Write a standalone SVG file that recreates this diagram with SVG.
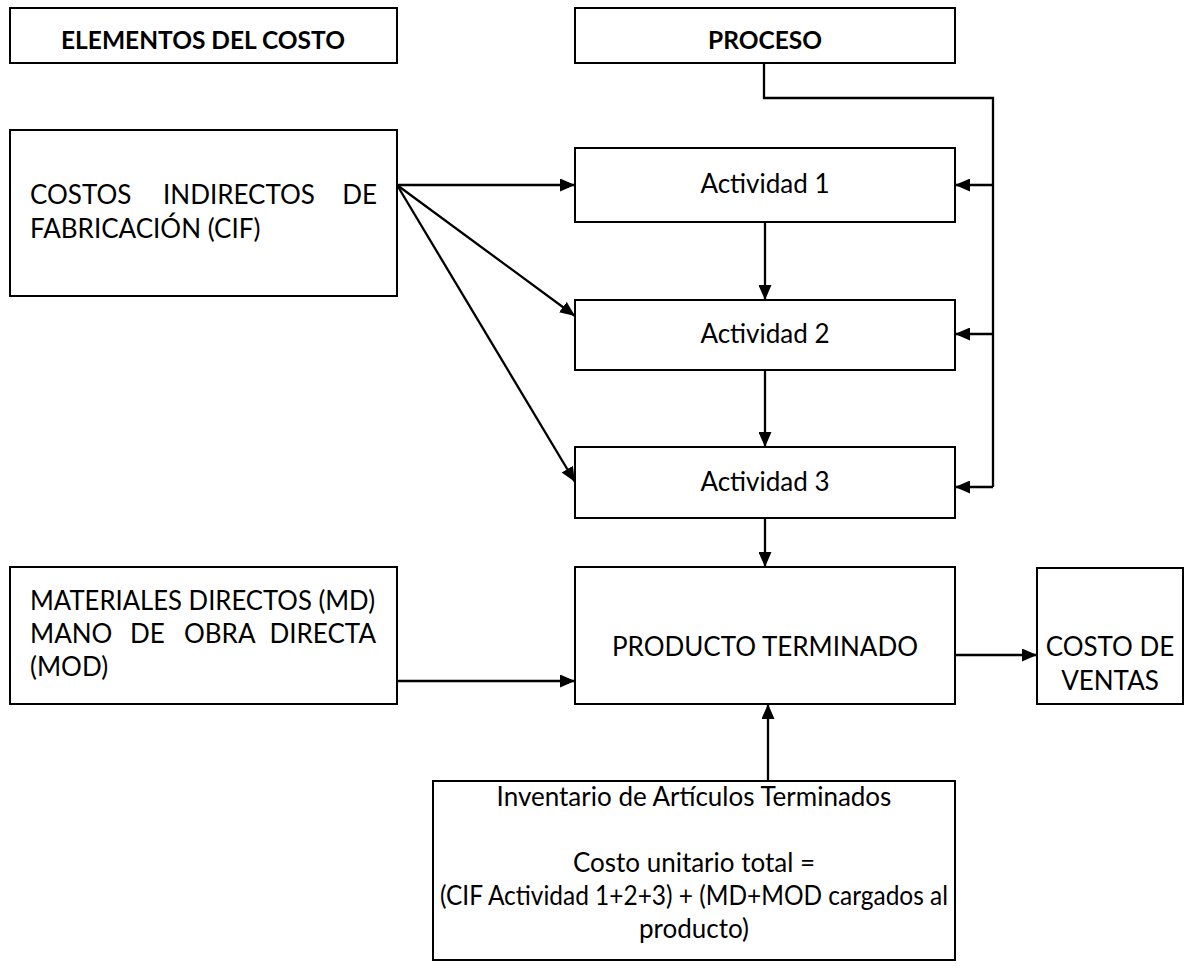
<svg xmlns="http://www.w3.org/2000/svg" width="1194" height="973" viewBox="0 0 1194 973">
  <defs>
    <marker id="arrow" viewBox="0 0 15 13" refX="15" refY="6.5" markerWidth="15" markerHeight="13" markerUnits="userSpaceOnUse" orient="auto">
      <path d="M0,0 L15,6.5 L0,13 Z" fill="#000"/>
    </marker>
    <style>
      .box { fill: #fff; stroke: #000; stroke-width: 2; }
      .t { font-family: Lato, "Liberation Sans", sans-serif; font-size: 26px; fill: #000; }
      .c { text-anchor: middle; }
      .b { font-weight: bold; font-size: 24.5px; }
      .link { fill: none; stroke: #000; stroke-width: 2.3; }
      .arr { marker-end: url(#arrow); }
    </style>
  </defs>
  <rect width="1194" height="973" fill="#fff"/>

  <g id="connectors">
    <!-- PROCESO feeding every activity from the right -->
    <path class="link" d="M764,63 V98 H993 V487"/>
    <line class="link arr" x1="993" y1="185" x2="955" y2="185"/>
    <line class="link arr" x1="993" y1="334" x2="955" y2="334"/>
    <line class="link arr" x1="993" y1="487" x2="955" y2="487"/>
    <!-- CIF distributed to the activities -->
    <line class="link arr" x1="397" y1="185" x2="575" y2="185"/>
    <line class="link arr" x1="397" y1="185" x2="575" y2="316"/>
    <line class="link arr" x1="397" y1="185" x2="575" y2="482"/>
    <!-- activity chain -->
    <line class="link arr" x1="765" y1="222" x2="765" y2="300"/>
    <line class="link arr" x1="765" y1="370" x2="765" y2="447"/>
    <line class="link arr" x1="765" y1="518" x2="765" y2="567"/>
    <!-- MD / MOD to product, product to cost of sales -->
    <line class="link arr" x1="397" y1="681" x2="575" y2="681"/>
    <line class="link arr" x1="955" y1="655" x2="1037" y2="655"/>
    <!-- inventory up to product -->
    <line class="link arr" x1="768" y1="781" x2="768" y2="704"/>
  </g>

  <g id="hdr-elementos">
    <rect class="box" x="10" y="8" width="387" height="55"/>
    <text class="t c b" x="203" y="49">ELEMENTOS DEL COSTO</text>
  </g>

  <g id="hdr-proceso">
    <rect class="box" x="575" y="8" width="380" height="55"/>
    <text class="t c b" x="765" y="49">PROCESO</text>
  </g>

  <g id="cif">
    <rect class="box" x="10" y="130" width="387" height="166"/>
    <text class="t" y="204"><tspan x="30">COSTOS</tspan><tspan x="163">INDIRECTOS</tspan><tspan x="377" text-anchor="end">DE</tspan></text>
    <text class="t" x="30" y="238">FABRICACIÓN (CIF)</text>
  </g>

  <g id="act1">
    <rect class="box" x="575" y="148" width="380" height="74"/>
    <text class="t c" x="765" y="193">Actividad 1</text>
  </g>

  <g id="act2">
    <rect class="box" x="575" y="300" width="380" height="70"/>
    <text class="t c" x="765" y="343">Actividad 2</text>
  </g>

  <g id="act3">
    <rect class="box" x="575" y="447" width="380" height="71"/>
    <text class="t c" x="765" y="491">Actividad 3</text>
  </g>

  <g id="md-mod">
    <rect class="box" x="10" y="567" width="387" height="137"/>
    <text class="t" x="30" y="610" textLength="345" lengthAdjust="spacingAndGlyphs">MATERIALES DIRECTOS (MD)</text>
    <text class="t" y="643"><tspan x="30">MANO</tspan><tspan x="130">DE</tspan><tspan x="184">OBRA</tspan><tspan x="376" text-anchor="end">DIRECTA</tspan></text>
    <text class="t" x="30" y="676">(MOD)</text>
  </g>

  <g id="producto">
    <rect class="box" x="575" y="567" width="380" height="137"/>
    <text class="t c" x="765" y="656">PRODUCTO TERMINADO</text>
  </g>

  <g id="costo-ventas">
    <rect class="box" x="1037" y="568" width="146" height="136"/>
    <text class="t c" x="1110" y="656">COSTO DE</text>
    <text class="t c" x="1110" y="690">VENTAS</text>
  </g>

  <g id="inventario">
    <rect class="box" x="433" y="781" width="522" height="179"/>
    <text class="t c" x="694" y="806">Inventario de Artículos Terminados</text>
    <text class="t c" x="694" y="872">Costo unitario total =</text>
    <text class="t c" x="694" y="905" textLength="508" lengthAdjust="spacingAndGlyphs">(CIF Actividad 1+2+3) + (MD+MOD cargados al</text>
    <text class="t c" x="694" y="938">producto)</text>
  </g>
</svg>
